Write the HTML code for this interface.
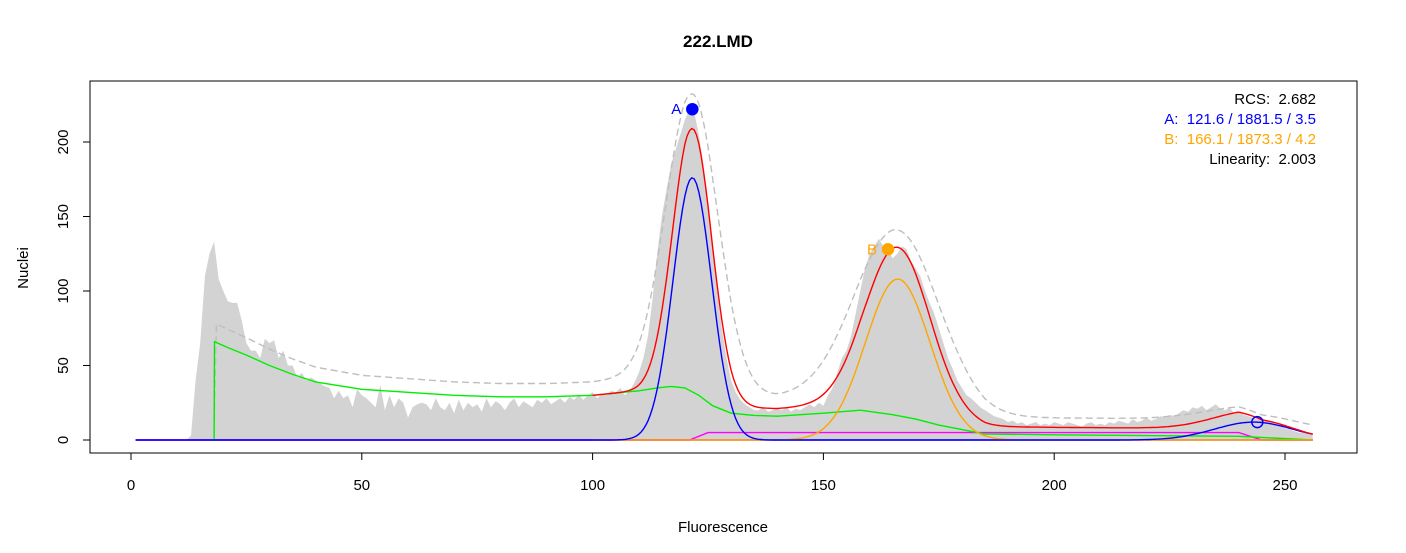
<!DOCTYPE html>
<html><head><meta charset="utf-8"><style>
body{margin:0;background:#fff}
svg{display:block;font-family:"Liberation Sans",sans-serif}
.pre{white-space:pre}
</style></head><body>
<svg id="chart" width="1406" height="553" viewBox="0 0 1406 553">
<text x="718" y="47" text-anchor="middle" font-weight="bold" font-size="17">222.LMD</text>
<text x="723" y="532" text-anchor="middle" font-size="15">Fluorescence</text>
<text transform="translate(28,268) rotate(-90)" text-anchor="middle" font-size="15">Nuclei</text>
<g id="plot"></g>
<g id="axes"></g>
<rect x="90" y="81" width="1267" height="372" fill="none" stroke="#000" stroke-width="1"/>
<g font-size="15" text-anchor="end" class="pre">
<text x="1316" y="104" fill="#000" class="pre">RCS:  2.682</text>
<text x="1316" y="124" fill="#0000ff" class="pre">A:  121.6 / 1881.5 / 3.5</text>
<text x="1316" y="144" fill="#ffa500" class="pre">B:  166.1 / 1873.3 / 4.2</text>
<text x="1316" y="164" fill="#000" class="pre">Linearity:  2.003</text>
</g>
</svg>
<script>
const hist = [0,0,0,0,0,0,0,0,0,0,0,0,
3,40,65,110,125,133,108,100,
93,92,92,80,65,60,60,55,68,65,
67,55,60,50,50,42,45,40,42,40,
38,36,35,28,33,28,30,22,34,30,
28,25,22,37,20,30,22,28,25,15,
22,24,25,24,20,28,22,20,25,18,
27,20,25,22,24,19,28,22,26,24,
20,25,28,22,26,24,22,27,25,28,
24,26,28,25,29,27,30,27,30,32,
28,31,30,33,32,35,30,33,38,45,
55,70,95,125,150,168,185,195,205,215,
222,220,205,185,160,130,100,75,55,40,
32,27,24,22,20,20,22,19,20,21,
20,22,19,21,20,22,24,22,25,23,
30,35,45,55,60,70,85,100,115,125,
130,135,130,128,122,125,130,128,120,115,
110,100,92,85,75,65,55,48,40,35,
30,28,25,22,20,18,16,15,14,12,
13,11,12,10,11,12,10,11,10,12,
11,10,12,11,10,9,11,12,10,11,
10,12,11,13,12,11,14,12,13,15,
13,14,16,15,17,16,18,20,19,22,
21,23,20,22,24,21,20,22,18,19,
17,16,15,14,15,13,12,10,9,8,
7,6,5,5,4,3];
const peakMeans = [121.6, 166.1, 243.2];
const peakHeights = [176, 108, 12];
const peakSds = [4.2, 7.0, 8.5];
const envHeights = [190, 112, 9];
const envSds = [5.6, 9.0, 10];
const debrisX = [18,18.1,21,25,30,35,40,50,60,70,80,90,100,110,114,117,120,123,126,130,135,140,150,158,165,170,175,180,185,200,240,256];
const debrisY = [0,66,62,57,50,44,39,34,32,30,29,29,30,33,35,36,35,30,23,18,16.5,16,18,20,17,14,10,7,4,3.5,2.5,0];
const aggX = [1,121,125,240,245,256];
const aggY = [0,0,5,5,0,0];
const xTicks = [0,50,100,150,200,250];
const yTicks = [0,50,100,150,200];
const markA = [121.6, 222];
const markB = [164, 128];
const markA2 = [244, 12];

const NS='http://www.w3.org/2000/svg';
const X = v => 131 + v*4.616;
const Y = v => 440 - v*1.49;
const plot=document.getElementById('plot'), axes=document.getElementById('axes');
function mk(tag, attrs, parent){const e=document.createElementNS(NS,tag);for(const k in attrs)e.setAttribute(k,attrs[k]);parent.appendChild(e);return e;}
function interp(xs, ys, x){if(x<=xs[0])return ys[0];for(let i=1;i<xs.length;i++){if(x<=xs[i]){const t=(x-xs[i-1])/(xs[i]-xs[i-1]);return ys[i-1]+t*(ys[i]-ys[i-1]);}}return ys[ys.length-1];}
function g(m,hh,s,x){const d=(x-m)/s;return hh*Math.exp(-0.5*d*d);}
function gauss(i,x){return g(peakMeans[i],peakHeights[i],peakSds[i],x);}
const chans=[];for(let c=1;c<=256;c+=0.5)chans.push(c);

let p='M'+X(1)+','+Y(0);
hist.forEach((v,i)=>{p+=' L'+X(i+1).toFixed(1)+','+Y(v).toFixed(1);});
p+=' L'+X(256)+','+Y(0)+' Z';
const h=mk('path',{d:p,fill:'#d3d3d3',stroke:'none'},plot);



function line(pts,color,name,dash){const d='M'+pts.map(q=>X(q[0]).toFixed(1)+','+Y(q[1]).toFixed(1)).join(' L');const e=mk('path',{d:d,fill:'none',stroke:color,'stroke-width':1.4},plot);if(dash)e.setAttribute('stroke-dasharray',dash);

}

const total=chans.map(c=>{let s=interp(debrisX,debrisY,c)+interp(aggX,aggY,c);for(let i=0;i<3;i++)s+=gauss(i,c);return [c,s];});
const env=chans.filter(c=>c>=18).map(c=>{let s=1.1*interp(debrisX,debrisY,c)+interp(aggX,aggY,c)+6;for(let i=0;i<3;i++)s+=g(peakMeans[i],envHeights[i],envSds[i],c);return [c,s];});
line(env,'#bebebe','confidence-envelope','7,4');
line(chans.map(c=>[c,0]),'#a020f0','baseline-model');
line(aggX.map((x,i)=>[x,aggY[i]]),'#ff00ff','aggregate-model');
line(debrisX.map((x,i)=>[x,debrisY[i]]),'#00ee00','debris-model');
line(chans.filter(c=>c>=100).map(c=>[c,gauss(1,c)]),'#ffa500','peak-b-model');
line(chans.map(c=>[c,gauss(0,c)+gauss(2,c)]),'#0000ff','peak-a-model');
line(total.filter(q=>q[0]>=100),'#ff0000','total-model');

function dot(m,color,fill,name){const e=mk('circle',{cx:X(m[0]),cy:Y(m[1]),r:5.5,fill:fill,stroke:color,'stroke-width':1.5},plot);

}
dot(markA,'#0000ff','#0000ff','peak-a-marker');
dot(markB,'#ffa500','#ffa500','peak-b-marker');
dot(markA2,'#0000ff','none','peak-a-g2-marker');
const la=mk('text',{x:X(markA[0])-11,y:Y(markA[1])+5,'text-anchor':'end','font-size':15,fill:'#0000ff'},plot);la.textContent='A';


const lb=mk('text',{x:X(markB[0])-11,y:Y(markB[1])+5,'text-anchor':'end','font-size':15,fill:'#ffa500'},plot);lb.textContent='B';



mk('line',{x1:X(0),x2:X(250),y1:453,y2:453,stroke:'#000'},axes);
xTicks.forEach(t=>{mk('line',{x1:X(t),x2:X(t),y1:453,y2:460,stroke:'#000'},axes);
const e=mk('text',{x:X(t),y:490,'text-anchor':'middle','font-size':15},axes);e.textContent=t;

});
mk('line',{x1:90,x2:90,y1:Y(0),y2:Y(200),stroke:'#000'},axes);
yTicks.forEach(t=>{mk('line',{x1:83,x2:90,y1:Y(t),y2:Y(t),stroke:'#000'},axes);
const e=mk('text',{transform:'translate(68,'+Y(t)+') rotate(-90)','text-anchor':'middle','font-size':15},axes);e.textContent=t;

});
</script>
</body></html>
